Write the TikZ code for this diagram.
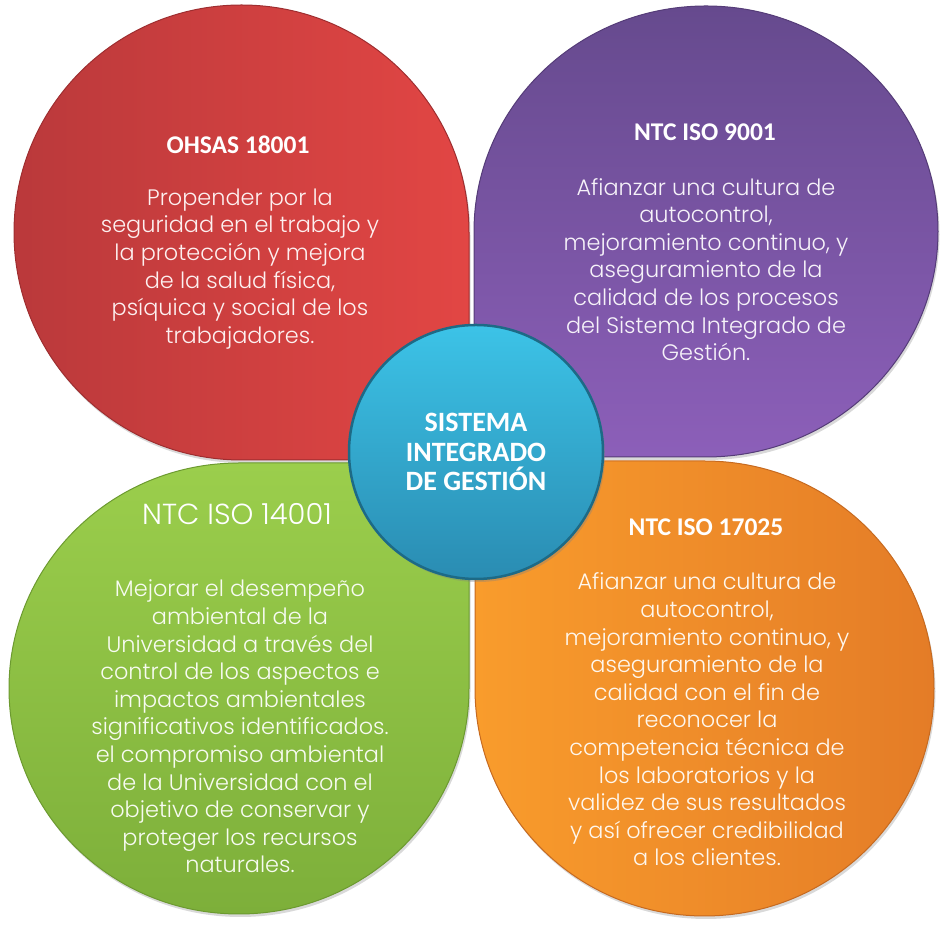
\documentclass[tikz,border=0pt]{standalone}
\usepackage{fontspec}
\IfFontExistsTF{Poppins Light}{\newfontfamily\bodyfont{Poppins Light}}{\newfontfamily\bodyfont{Poppins}}
\newfontfamily\headfont{Carlito}
\usetikzlibrary{shadows}
\definecolor{redA}{HTML}{BA393B}
\definecolor{redB}{HTML}{E24644}
\definecolor{redE}{HTML}{9E2E30}
\definecolor{purA}{HTML}{664A8E}
\definecolor{purB}{HTML}{8C5FB9}
\definecolor{purE}{HTML}{553C78}
\definecolor{grnA}{HTML}{9BCE4C}
\definecolor{grnB}{HTML}{7DAF3A}
\definecolor{grnE}{HTML}{6C9A30}
\definecolor{orgA}{HTML}{F99C2C}
\definecolor{orgB}{HTML}{E47C27}
\definecolor{orgE}{HTML}{C66A20}
\definecolor{bluA}{HTML}{3CC3E7}
\definecolor{bluB}{HTML}{2A8CB2}
\definecolor{bluE}{HTML}{1D6A86}
\tikzset{
  leaf/.style={line width=1pt, drop shadow={opacity=0.3, shadow xshift=1.5pt, shadow yshift=-3pt}},
  headtxt/.style={text=white, align=center, inner sep=0pt, font=\headfont\bfseries\fontsize{25.5}{29}\selectfont},
  bodytxt/.style={align=center, inner sep=0pt, font=\bodyfont\fontsize{22.4}{27.6}\selectfont},
}
\begin{document}
\begin{tikzpicture}[x=1pt,y=1pt]
\useasboundingbox (0,0) rectangle (946,926);
% red (top left)
\shade[leaf, left color=redA, right color=redB, draw=redE]
  (469,466) -- (469,693.5) arc[start angle=0, end angle=270, radius=227.5] -- cycle;
% purple (top right)
\shade[leaf, top color=purA, bottom color=purB, draw=purE]
  (474,469) -- (706,469) arc[start angle=270, end angle=540, x radius=232, y radius=225.5] -- cycle;
% green (bottom left)
\shade[leaf, top color=grnA, bottom color=grnB, draw=grnE]
  (469,463) -- (239,463) arc[start angle=90, end angle=360, x radius=230, y radius=225.5] -- cycle;
% orange (bottom right)
\shade[leaf, left color=orgA, right color=orgB, draw=orgE]
  (475,465) -- (475,237.5) arc[start angle=180, end angle=450, x radius=229.5, y radius=227.5] -- cycle;

% texts
\node[headtxt] (h1) at (238,781) {OHSAS 18001};
\node[bodytxt, text=white!92!redB] (b1) at (240,657) {Propender por la\\seguridad en el trabajo y\\la protección y mejora\\de la salud física,\\psíquica y social de los\\trabajadores.};

\node[headtxt] (h2) at (705,794) {NTC ISO 9001};
\node[bodytxt, text=white!92!purB] (b2) at (706,656.5) {Afianzar una cultura de\\autocontrol,\\mejoramiento continuo, y\\aseguramiento de la\\calidad de los procesos\\del Sistema Integrado de\\Gestión.};

\node[text=white, inner sep=0pt, font=\bodyfont\fontsize{29}{32}\selectfont] (h3) at (237,412) {NTC ISO 14001};
\node[bodytxt, text=white!92!grnA] (b3) at (240,199.5) {Mejorar el desempeño\\ambiental de la\\Universidad a través del\\control de los aspectos e\\impactos ambientales\\significativos identificados.\\el compromiso ambiental\\de la Universidad con el\\objetivo de conservar y\\proteger los recursos\\naturales.};

\node[headtxt] (h4) at (706,399) {NTC ISO 17025};
\node[bodytxt, text=white!92!orgA] (b4) at (707,206.5) {Afianzar una cultura de\\autocontrol,\\mejoramiento continuo, y\\aseguramiento de la\\calidad con el fin de\\reconocer la\\competencia técnica de\\los laboratorios y la\\validez de sus resultados\\y así ofrecer credibilidad\\a los clientes.};

% center circle
\node[circle, minimum size=254pt, inner sep=0pt, draw=bluE, line width=2.5pt,
      top color=bluA, bottom color=bluB,
      drop shadow={opacity=0.35, shadow xshift=2pt, shadow yshift=-3pt},
      text=white, align=center, font=\headfont\bfseries\fontsize{28}{29.5}\selectfont] (sig) at (476,474)
  {SISTEMA\\INTEGRADO\\DE GESTIÓN};
\end{tikzpicture}
\end{document}
